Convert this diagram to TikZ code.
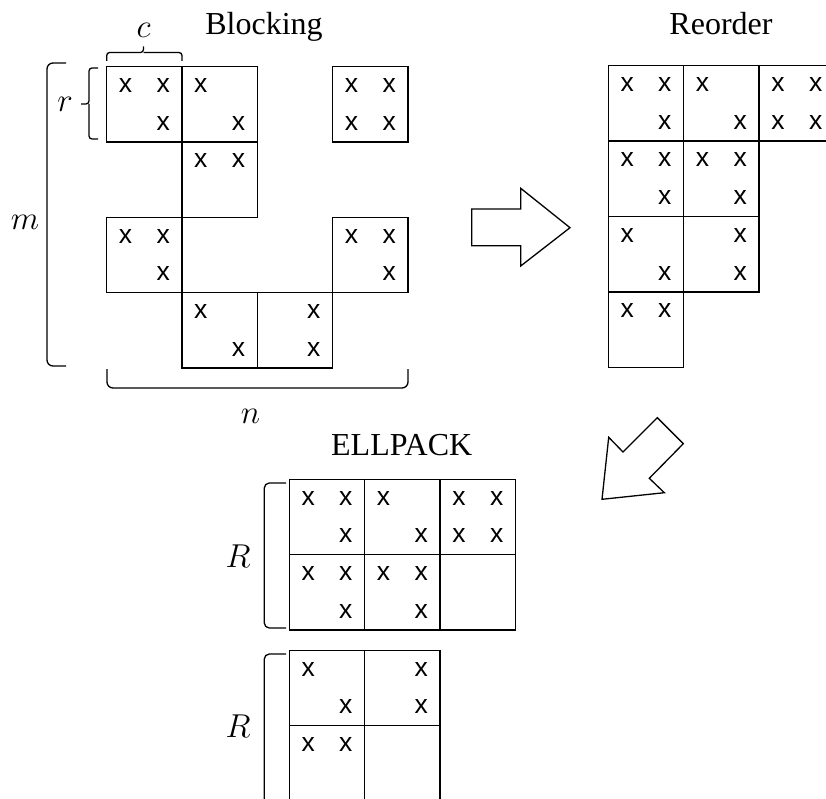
\documentclass[tikz,border=0pt]{standalone}
\usepackage{fontspec}
\setmainfont{Liberation Serif}
\newfontfamily\xfont{Liberation Sans}
\tikzset{
  blockbox/.style={draw, line width=1.3pt, minimum width=75.4pt, minimum height=75.4pt, inner sep=0pt, outer sep=0pt, anchor=north west},
  xmark/.style={font=\xfont\fontsize{26.5}{26.5}\selectfont, inner sep=0pt},
  title/.style={font=\fontsize{32}{38}\selectfont, anchor=base, inner sep=0pt},
  mathlbl/.style={font=\fontsize{24.88}{30}\selectfont, anchor=base, inner sep=0pt, scale=1.33, transform shape},
  bracketline/.style={line width=1.3pt, rounded corners=4pt},
  bigarrow/.style={line width=1.3pt, line join=miter},
}
% name, x, y (top-left), flags: top-left, top-right, bottom-left, bottom-right
\newcommand\blk[7]{%
  \node[blockbox] (#1) at (#2,#3) {};
  \ifnum#4=1 \node[xmark] (#1-a) at (#2+18.85,#3+18.85) {x};\fi
  \ifnum#5=1 \node[xmark] (#1-b) at (#2+56.55,#3+18.85) {x};\fi
  \ifnum#6=1 \node[xmark] (#1-c) at (#2+18.85,#3+56.55) {x};\fi
  \ifnum#7=1 \node[xmark] (#1-d) at (#2+56.55,#3+56.55) {x};\fi
}
\begin{document}
\begin{tikzpicture}[x=1pt,y=-1pt]
\useasboundingbox (0,0) rectangle (826,799);
\clip (0,0) rectangle (826,799);

% ---------- Blocking ----------
\node[title] (tblock) at (264,35) {Blocking};
\blk{B00}{106.7}{66.7}{1}{1}{0}{1}
\blk{B01}{182}{66.7}{1}{0}{0}{1}
\blk{B03}{332.6}{66.7}{1}{1}{1}{1}
\blk{B11}{182}{142}{1}{1}{0}{0}
\blk{B20}{106.7}{217.3}{1}{1}{0}{1}
\blk{B23}{332.6}{217.3}{1}{1}{0}{1}
\blk{B31}{182}{292.6}{1}{0}{0}{1}
\blk{B32}{257.3}{292.6}{0}{1}{0}{1}

% c brace
\draw[bracketline, rounded corners=3pt] (106.7,61) -- (106.7,52.5) -- (143.5,52.5) -- (143.5,46.5);
\draw[bracketline, rounded corners=3pt] (143.5,52.5) -- (182,52.5) -- (182,61);
\node[mathlbl] (lc) at (143.5,38) {$c$};
% r brace
\draw[bracketline, rounded corners=3pt] (98,68) -- (89,68) -- (89,104) -- (81,104);
\draw[bracketline, rounded corners=3pt] (89,104) -- (89,139) -- (98,139);
\node[mathlbl] (lr) at (65,112) {$r$};
% m bracket
\draw[bracketline, rounded corners=6pt] (66,63) -- (47,63) -- (47,366) -- (66,366);
\node[mathlbl] (lm) at (25,230) {$m$};
% n bracket
\draw[bracketline, rounded corners=6pt] (107,369) -- (107,388) -- (408,388) -- (408,369);
\node[mathlbl] (ln) at (250.5,423) {$n$};

% ---------- Reorder ----------
\node[title] (treorder) at (721,35) {Reorder};
\blk{R00}{608.3}{65.7}{1}{1}{0}{1}
\blk{R01}{683.7}{65.7}{1}{0}{0}{1}
\blk{R02}{759.1}{65.7}{1}{1}{1}{1}
\blk{R10}{608.3}{141.1}{1}{1}{0}{1}
\blk{R11}{683.7}{141.1}{1}{1}{0}{1}
\blk{R20}{608.3}{216.5}{1}{0}{0}{1}
\blk{R21}{683.7}{216.5}{0}{1}{0}{1}
\blk{R30}{608.3}{291.9}{1}{1}{0}{0}

% ---------- arrows ----------
\draw[bigarrow] (471.7,209) -- (520.7,209) -- (520.7,188.3) -- (570,227.7) -- (520.7,266) -- (520.7,245.7) -- (471.7,245.7) -- cycle;
\draw[bigarrow] (657.3,417.7) -- (683.3,443.7) -- (649.3,478.3) -- (664.3,492.7) -- (602,499.3) -- (608.7,437.3) -- (623,452) -- cycle;

% ---------- ELLPACK ----------
\node[title] (tell) at (401.7,455) {ELLPACK};
\blk{E00}{289.3}{479.3}{1}{1}{0}{1}
\blk{E01}{364.7}{479.3}{1}{0}{0}{1}
\blk{E02}{440.1}{479.3}{1}{1}{1}{1}
\blk{E10}{289.3}{554.7}{1}{1}{0}{1}
\blk{E11}{364.7}{554.7}{1}{1}{0}{1}
\blk{E12}{440.1}{554.7}{0}{0}{0}{0}
\blk{F00}{289.3}{650.3}{1}{0}{0}{1}
\blk{F01}{364.7}{650.3}{0}{1}{0}{1}
\blk{F10}{289.3}{725.7}{1}{1}{0}{0}
\blk{F11}{364.7}{725.7}{0}{0}{0}{0}

\draw[bracketline, rounded corners=5pt] (286,483) -- (264.3,483) -- (264.3,628) -- (286,628);
\node[mathlbl] (lR1) at (238,567) {$R$};
\draw[bracketline, rounded corners=5pt] (286,654) -- (264.3,654) -- (264.3,830);
\node[mathlbl] (lR2) at (238,737) {$R$};
\end{tikzpicture}
\end{document}
